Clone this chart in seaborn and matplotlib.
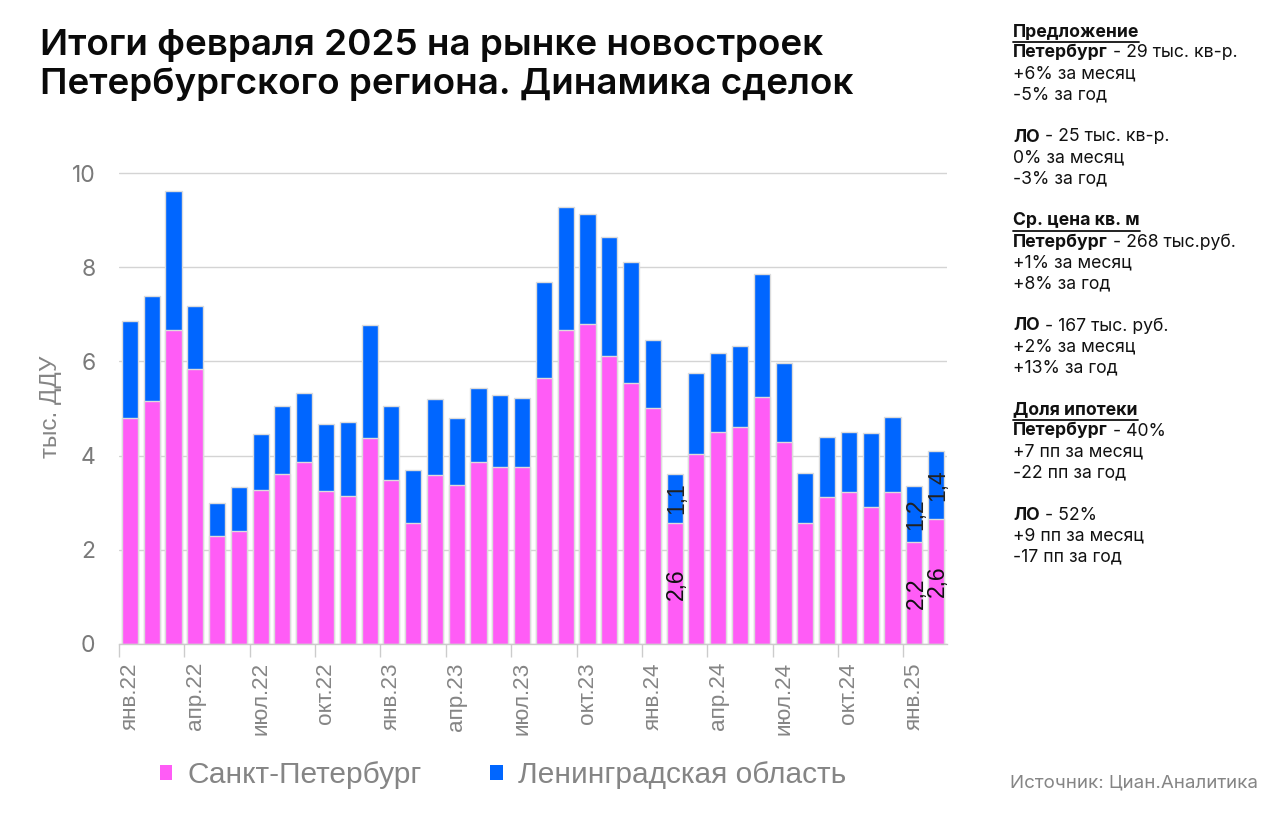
import matplotlib
matplotlib.use("Agg")
import matplotlib.pyplot as plt
import seaborn as sns
import numpy as np
import pandas as pd
from matplotlib.patches import Patch
from matplotlib.lines import Line2D

# ---------------- data ----------------
months = ['янв.22', 'фев.22', 'мар.22', 'апр.22', 'май.22', 'июн.22', 'июл.22', 'авг.22', 'сен.22', 'окт.22', 'ноя.22', 'дек.22',
          'янв.23', 'фев.23', 'мар.23', 'апр.23', 'май.23', 'июн.23', 'июл.23', 'авг.23', 'сен.23', 'окт.23', 'ноя.23', 'дек.23',
          'янв.24', 'фев.24', 'мар.24', 'апр.24', 'май.24', 'июн.24', 'июл.24', 'авг.24', 'сен.24', 'окт.24', 'ноя.24', 'дек.24',
          'янв.25', 'фев.25']
spb = [4.80, 5.17, 6.66, 5.85, 2.29, 2.40, 3.28, 3.61, 3.86, 3.25, 3.15, 4.37,
       3.48, 2.57, 3.58, 3.37, 3.87, 3.76, 3.75, 5.65, 6.66, 6.80, 6.11, 5.55,
       5.02, 2.56, 4.03, 4.50, 4.61, 5.25, 4.29, 2.58, 3.13, 3.22, 2.92, 3.23,
       2.16, 2.66]
lo = [2.07, 2.23, 2.97, 1.32, 0.70, 0.93, 1.19, 1.44, 1.48, 1.43, 1.57, 2.40,
      1.58, 1.13, 1.62, 1.43, 1.56, 1.53, 1.47, 2.03, 2.62, 2.34, 2.54, 2.57,
      1.43, 1.06, 1.73, 1.69, 1.72, 2.61, 1.68, 1.06, 1.26, 1.29, 1.56, 1.59,
      1.20, 1.43]
tick_months = months[::3]
yticks = [0, 2, 4, 6, 8, 10]

annot_months = ['фев.24', 'янв.25', 'фев.25']
annot_spb = ['2,6', '2,2', '2,6']
annot_lo = ['1,1', '1,2', '1,4']

series_names = ['Санкт-Петербург', 'Ленинградская область']
title = 'Итоги февраля 2025 на рынке новостроек\nПетербургского региона. Динамика сделок'
ylabel = 'тыс. ДДУ'
source = 'Источник: Циан.Аналитика'

panel = [
    [('Предложение', 'h')],
    [('Петербург', 'b'), (' - 29 тыс. кв-р.', 'r')],
    [('+6% за месяц', 'r')],
    [('-5% за год', 'r')],
    [],
    [('ЛО', 'b'), (' - 25 тыс. кв-р.', 'r')],
    [('0% за месяц', 'r')],
    [('-3% за год', 'r')],
    [],
    [('Ср. цена кв. м', 'h')],
    [('Петербург', 'b'), (' - 268 тыс.руб.', 'r')],
    [('+1% за месяц', 'r')],
    [('+8% за год', 'r')],
    [],
    [('ЛО', 'b'), (' - 167 тыс. руб.', 'r')],
    [('+2% за месяц', 'r')],
    [('+13% за год', 'r')],
    [],
    [('Доля ипотеки', 'h')],
    [('Петербург', 'b'), (' - 40%', 'r')],
    [('+7 пп за месяц', 'r')],
    [('-22 пп за год', 'r')],
    [],
    [('ЛО', 'b'), (' - 52%', 'r')],
    [('+9 пп за месяц', 'r')],
    [('-17 пп за год', 'r')],
]

PINK = '#FF5CF6'
BLUE = '#0066FF'
GRAY = '#858585'

# ---------------- figure ----------------
sns.set_theme(style='white')
plt.rcParams['font.family'] = ['Liberation Sans', 'DejaVu Sans']

W, H = 1280, 836
fig = plt.figure(figsize=(W / 100, H / 100), dpi=100)
ax = fig.add_axes([119 / W, (H - 644) / H, (947 - 119) / W, (644 - 159) / H])

df = pd.DataFrame({'month': months, 'spb': spb, 'lo': lo})
df['total'] = df['spb'] + df['lo']

sns.barplot(data=df, x='month', y='total', order=months, color=BLUE, width=0.74,
            saturation=1, edgecolor='#dcdcdc', linewidth=1, ax=ax)
sns.barplot(data=df, x='month', y='spb', order=months, color=PINK, width=0.74,
            saturation=1, edgecolor='#dcdcdc', linewidth=1, ax=ax)

ax.set_xlim(-0.5, len(months) - 0.5)
ax.set_ylim(0, 10.3)
ax.set_yticks(yticks)
ax.set_yticklabels([str(v) for v in yticks], family=['Inter', 'DejaVu Sans'],
                   fontsize=16.5, color='#7a7a7a')
ax.yaxis.grid(True, color='#d4d4d4', linewidth=1)
ax.set_axisbelow(True)
ax.tick_params(axis='y', length=0, pad=17)

pos = {m: i for i, m in enumerate(months)}
ax.set_xticks([pos[m] for m in tick_months])
ax.set_xticklabels(tick_months, rotation=90, fontsize=16.2, color=GRAY)
ax.set_xticks(np.arange(-0.5, len(months), 3), minor=True)
ax.tick_params(axis='x', which='major', length=0, pad=13)
ax.tick_params(axis='x', which='minor', length=9, width=1, color='#cccccc', bottom=True)
ax.set_xlabel('')
ax.set_ylabel(ylabel, fontsize=17.5, color=GRAY)
ax.yaxis.set_label_coords(-0.069, 0.49)

for s in ['top', 'right', 'left']:
    ax.spines[s].set_visible(False)
ax.spines['bottom'].set_color('#cccccc')
ax.spines['bottom'].set_linewidth(1)

for m, ts, tl in zip(annot_months, annot_spb, annot_lo):
    i = pos[m]
    s = df.loc[i, 'spb']
    l = df.loc[i, 'lo']
    ax.text(i + 0.08, s / 2, ts, rotation=90, ha='center', va='center', fontsize=16.5, color='#111111')
    ax.text(i + 0.08, s + l / 2, tl, rotation=90, ha='center', va='center', fontsize=16.5, color='#222222')

# title
fig.text(40 / W, 1 - 29 / H, title, ha='left', va='top', fontsize=26.5, fontweight='semibold',
         family=['Inter', 'DejaVu Sans'], color='#0a0a0a', linespacing=1.18)

# legend
handles = [Patch(facecolor=PINK, edgecolor='none'), Patch(facecolor=BLUE, edgecolor='none')]
fig.legend(handles, series_names, loc='center left', bbox_to_anchor=(133 / W, 1 - 775 / H),
           ncol=2, frameon=False, fontsize=21.5, labelcolor=GRAY, handlelength=0.42,
           handleheight=0.42, handletextpad=0.5, columnspacing=2.3)

# source
fig.text(1010 / W, 1 - 783 / H, source, ha='left', va='center', fontsize=13.5, color=GRAY,
         family=['Inter', 'DejaVu Sans'])

# right panel
renderer = fig.canvas.get_renderer()
x0 = 1013
y = 32
for line in panel:
    x = x0
    for txt, kind in line:
        weight = 'bold' if kind in ('b', 'h') else 'normal'
        t = fig.text(x / W, 1 - y / H, txt, ha='left', va='center', fontsize=12.7,
                     fontweight=weight, family=['Inter', 'DejaVu Sans'], color='#111111')
        bb = t.get_window_extent(renderer=renderer)
        if kind == 'h':
            fig.add_artist(Line2D([x / W, (x + bb.width) / W], [1 - (y + 9.5) / H, 1 - (y + 9.5) / H],
                                  color='#111111', linewidth=1.3, transform=fig.transFigure))
        x += bb.width
    y += 21

fig.savefig('out.png', dpi=100)
